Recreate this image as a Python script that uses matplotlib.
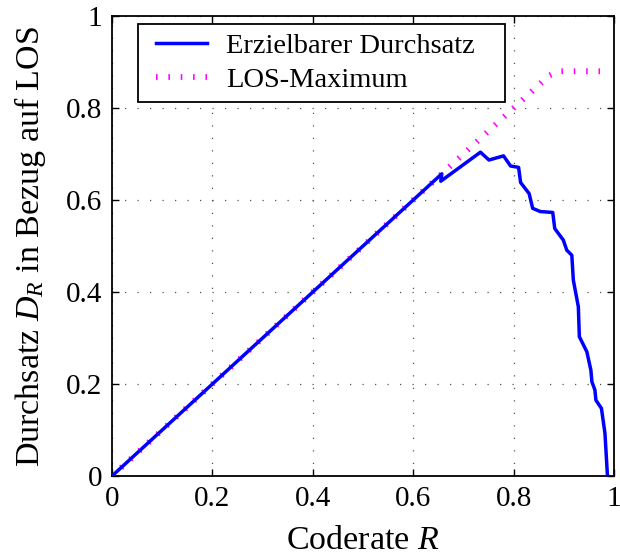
import matplotlib.pyplot as plt
from matplotlib.legend_handler import HandlerLine2D

plt.rcParams['font.family'] = ['Liberation Serif', 'DejaVu Serif']
plt.rcParams['mathtext.fontset'] = 'custom'
plt.rcParams['mathtext.rm'] = 'Liberation Serif'
plt.rcParams['mathtext.it'] = 'Liberation Serif:italic'

# Erzielbarer Durchsatz ueber der Coderate
r_durchsatz = [0.0, 0.657, 0.655, 0.734, 0.751, 0.780, 0.794, 0.810, 0.814,
               0.831, 0.838, 0.853, 0.878, 0.882, 0.899, 0.906, 0.916, 0.919,
               0.929, 0.931, 0.946, 0.954, 0.956, 0.962, 0.964, 0.975, 0.982,
               0.987]
d_durchsatz = [0.0, 0.657, 0.641, 0.704, 0.687, 0.696, 0.674, 0.671, 0.638,
               0.614, 0.582, 0.575, 0.573, 0.538, 0.513, 0.491, 0.480, 0.426,
               0.368, 0.303, 0.270, 0.230, 0.205, 0.187, 0.165, 0.147, 0.093,
               0.0]

# LOS-Maximum
r_los = [0.0, 0.855, 0.870, 0.885, 0.895, 0.987]
d_los = [0.0, 0.855, 0.870, 0.878, 0.880, 0.880]

fig = plt.figure(figsize=(6.2, 5.55), dpi=100)
ax = fig.add_axes([0.1806, 0.1423, 0.8097, 0.8288])

ax.plot(r_durchsatz, d_durchsatz, color='#0000ff', lw=2.5,
        label='Erzielbarer Durchsatz', zorder=3)
ax.plot(r_los, d_los, color='#ff00ff', lw=4.2, dashes=(0.27, 1.85),
        dash_capstyle='butt', label='LOS-Maximum', zorder=2)

ax.set_xlim(0, 1)
ax.set_ylim(0, 1)
ax.set_xticks([0, 0.2, 0.4, 0.6, 0.8, 1])
ax.set_yticks([0, 0.2, 0.4, 0.6, 0.8, 1])
ax.set_xticklabels(['0', '0.2', '0.4', '0.6', '0.8', '1'])
ax.set_yticklabels(['0', '0.2', '0.4', '0.6', '0.8', '1'])
ax.tick_params(direction='in', length=5, width=1, top=True, right=True,
               labelsize=21, pad=7)
ax.grid(True, color='#555555', linestyle=(0, (1, 9)), linewidth=0.9)
for s in ax.spines.values():
    s.set_linewidth(1.3)

ax.set_xlabel('Coderate $R$', fontsize=24.5, labelpad=10)
ax.set_ylabel('Durchsatz $D_R$ in Bezug auf LOS', fontsize=24.5, labelpad=13)

# Legende mit fester Breite oben links, Linien etwas eingerueckt
leg = ax.legend(loc='upper left', bbox_to_anchor=(0.052, 0.817, 0.731, 0.166),
                mode='expand', borderaxespad=0, fontsize=20.5, fancybox=False,
                framealpha=1, edgecolor='black', handlelength=2.1,
                handletextpad=0.67, borderpad=0.32, labelspacing=0.29,
                handler_map={plt.Line2D: HandlerLine2D(xpad=0.3)})
leg.get_frame().set_linewidth(1.3)

fig.savefig('out.png', dpi=100)
